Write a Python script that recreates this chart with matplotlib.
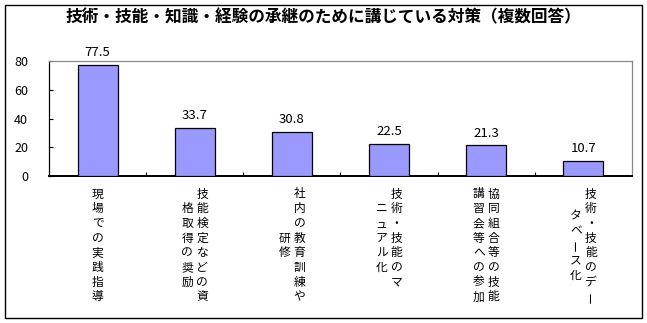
import matplotlib
matplotlib.use("Agg")
import matplotlib.pyplot as plt
from matplotlib.patches import Rectangle

plt.rcParams['font.family'] = ['Noto Sans CJK JP', 'DejaVu Sans']

title = "技術・技能・知識・経験の承継のために講じている対策（複数回答）"
values = [77.5, 33.7, 30.8, 22.5, 21.3, 10.7]
# vertical tick labels, one list of columns per bar (first column drawn on the right)
label_columns = [
    ["現場での実践指導"],
    ["技能検定などの資", "格取得の奨励"],
    ["社内の教育訓練や", "研修"],
    ["技術・技能のマ", "ニュアル化"],
    ["協同組合等の技能", "講習会等への参加"],
    ["技術・技能のデー", "タベース化"],
]
yticks = [0, 20, 40, 60, 80]

W, H = 647, 323
fig = plt.figure(figsize=(W / 100, H / 100), dpi=100)
ax = fig.add_axes([49 / W, 1 - 176 / H, (632 - 49) / W, (176 - 61) / H])

x = list(range(len(values)))
ax.bar(x, values, width=0.41, color='#9999ff', edgecolor='black', linewidth=0.9, zorder=3)

for xi, v in zip(x, values):
    ax.annotate(f"{v:.1f}", xy=(xi, v), xytext=(0, 4), textcoords='offset points',
                ha='center', va='bottom', fontsize=9.5)

ax.set_xlim(-0.5, len(values) - 0.5)
ax.set_ylim(0, 80)
ax.set_yticks(yticks)
ax.tick_params(axis='y', direction='in', length=3, width=0.8, pad=15, labelsize=9)
ax.set_xticks([])
ax.set_xticks([i + 0.5 for i in x[:-1]], minor=True)
ax.tick_params(axis='x', which='minor', direction='in', length=3, width=0.8)

for side in ['top', 'right']:
    ax.spines[side].set_color('#888888')
    ax.spines[side].set_linewidth(0.9)
ax.spines['left'].set_linewidth(0.9)
ax.spines['bottom'].set_linewidth(1.4)

# vertical Japanese labels, drawn character by character
px = 0.72  # points per pixel
row_h = 14.7
col_w = 15
for xi, cols in zip(x, label_columns):
    n_rows = max(len(c) for c in cols)
    ncol = len(cols)
    for ci, col in enumerate(cols):
        dx = ((ncol - 1) / 2 - ci) * col_w
        start = (n_rows - len(col)) / 2
        for ri, ch in enumerate(col):
            dy = -(18 + (start + ri) * row_h)
            rot = 90 if ch == "ー" else 0
            ax.annotate(ch, xy=(xi, 0), xycoords=('data', 'axes fraction'),
                        xytext=(dx * px, dy * px), textcoords='offset points',
                        ha='center', va='center', fontsize=8.5, rotation=rot,
                        annotation_clip=False)

fig.text(0.5, 1 - 17 / H, title, ha='center', va='center', fontsize=12, fontweight='bold')

fig.patches.append(Rectangle((5 / W, 5 / H), (W - 10) / W, (H - 10) / H,
                             transform=fig.transFigure, fill=False,
                             edgecolor='black', linewidth=1))

fig.savefig("out.png", dpi=100)
